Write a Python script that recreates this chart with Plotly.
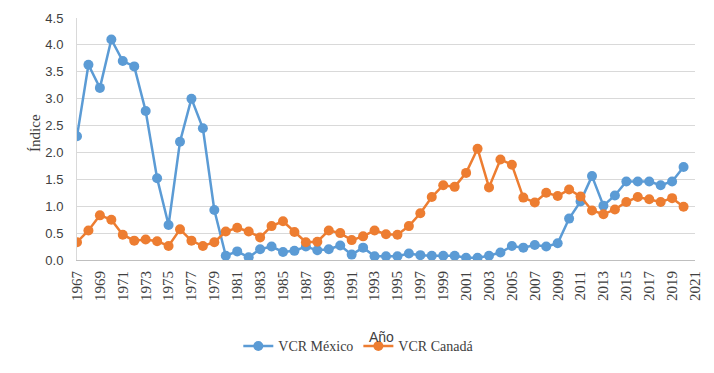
import plotly.graph_objects as go

years = list(range(1967, 2021))
mexico = [2.30, 3.63, 3.20, 4.10, 3.70, 3.60, 2.77, 1.52, 0.65, 2.20,
          3.00, 2.45, 0.93, 0.08, 0.16, 0.05, 0.20, 0.25, 0.15, 0.17,
          0.25, 0.18, 0.20, 0.27, 0.10, 0.23, 0.07, 0.07, 0.07, 0.12,
          0.09, 0.08, 0.08, 0.08, 0.04, 0.04, 0.08, 0.14, 0.26, 0.23,
          0.28, 0.25, 0.31, 0.77, 1.09, 1.56, 1.01, 1.20, 1.46, 1.46,
          1.46, 1.39, 1.46, 1.73]
canada = [0.33, 0.55, 0.83, 0.75, 0.47, 0.36, 0.38, 0.35, 0.26, 0.57,
          0.36, 0.26, 0.33, 0.53, 0.60, 0.53, 0.42, 0.63, 0.72, 0.52,
          0.33, 0.34, 0.55, 0.50, 0.37, 0.44, 0.55, 0.48, 0.47, 0.63,
          0.87, 1.17, 1.39, 1.36, 1.62, 2.07, 1.35, 1.87, 1.77, 1.16,
          1.07, 1.25, 1.19, 1.31, 1.18, 0.92, 0.85, 0.94, 1.08, 1.17,
          1.13, 1.08, 1.15, 0.99]
x_ticks = list(range(1967, 2022, 2))
y_ticks = [0.0, 0.5, 1.0, 1.5, 2.0, 2.5, 3.0, 3.5, 4.0, 4.5]

SERIF = "Liberation Serif, Times New Roman, serif"
SANS = "Liberation Sans, Arial, sans-serif"
TXT = "#404040"

fig = go.Figure()
fig.add_trace(go.Scatter(x=years, y=mexico, name="VCR México", mode="lines+markers",
                         line=dict(color="#5b9bd5", width=2.5),
                         marker=dict(color="#5b9bd5", size=10)))
fig.add_trace(go.Scatter(x=years, y=canada, name="VCR Canadá", mode="lines+markers",
                         line=dict(color="#ed7d31", width=2.5),
                         marker=dict(color="#ed7d31", size=10)))

# page body has an 8px margin; figure sized to fit the 714x373 window
fig.update_layout(
    width=706, height=365,
    margin=dict(l=69, r=19, t=10, b=111),
    plot_bgcolor="white", paper_bgcolor="white",
    font=dict(family=SERIF, size=14, color=TXT),
    xaxis=dict(range=[1967, 2021], tickvals=x_ticks, ticktext=[str(v) for v in x_ticks],
               tickangle=-90, showgrid=False, showline=True, linecolor="#bfbfbf",
               linewidth=1, zeroline=False, ticks="", automargin=False,
               ticklabelstandoff=4,
               tickfont=dict(family=SERIF, size=15, color=TXT)),
    yaxis=dict(range=[0, 4.5], tickvals=y_ticks, ticktext=[f"{v:.1f}" for v in y_ticks],
               showgrid=True, gridcolor="#d9d9d9", gridwidth=1, zeroline=False,
               showline=True, linecolor="#d9d9d9", ticks="", automargin=False,
               ticklabelstandoff=10,
               tickfont=dict(family=SANS, size=13, color=TXT)),
    legend=dict(orientation="h", x=0.456, y=-0.357, xanchor="center", yanchor="middle",
                font=dict(family=SERIF, size=14, color=TXT), tracegroupgap=0),
    showlegend=True,
)
fig.add_annotation(text="Índice", xref="paper", yref="paper", x=-0.068, y=0.525,
                   xanchor="center", yanchor="middle",
                   textangle=-90, showarrow=False,
                   font=dict(family=SERIF, size=15, color=TXT))
fig.add_annotation(text="Año", xref="paper", yref="paper", x=0.492, y=-0.32,
                   xanchor="center", yanchor="middle",
                   showarrow=False, font=dict(family=SANS, size=14, color=TXT))

fig.write_html("out.html")
